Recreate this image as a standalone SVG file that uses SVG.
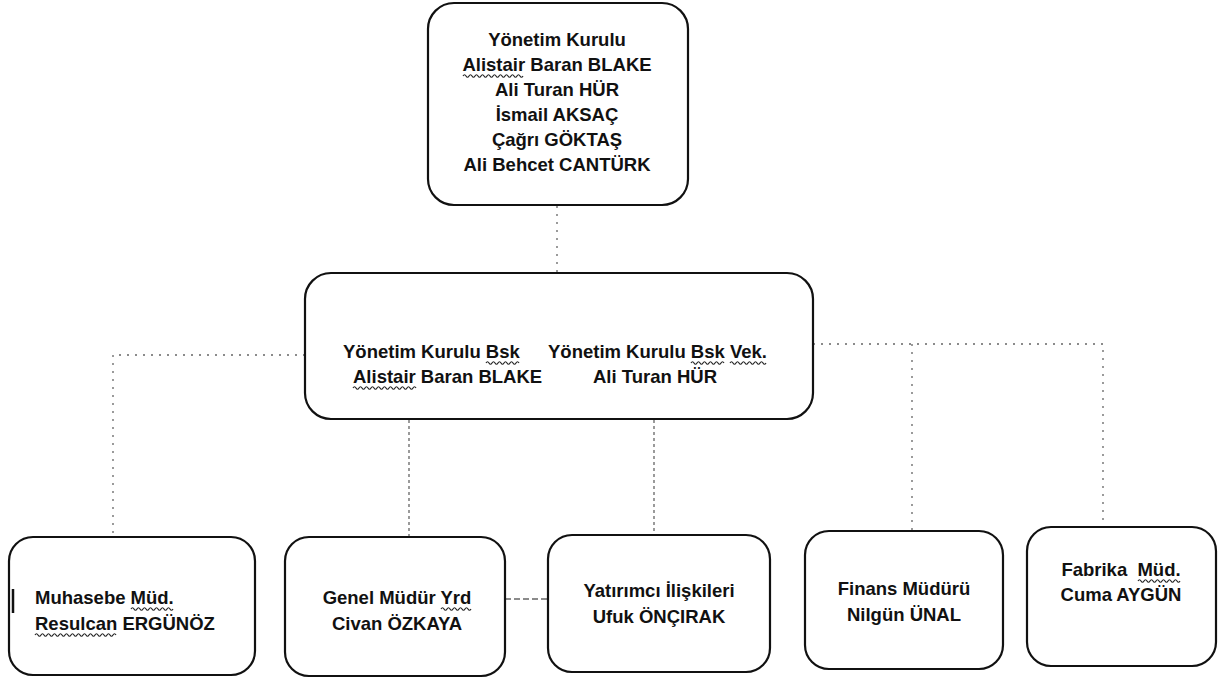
<svg xmlns="http://www.w3.org/2000/svg" width="1221" height="681" viewBox="0 0 1221 681">
<style>
.box{fill:#fff;stroke:#111;stroke-width:2.2}
.t{font-family:"Liberation Sans",Arial,sans-serif;font-weight:bold;font-size:18.5px;fill:#111}
.c{text-anchor:middle}
.conn{fill:none;stroke:#666;stroke-width:1.3}
.sparse{stroke-dasharray:2 6}
.dots{stroke-dasharray:3 3}
.dash{stroke-dasharray:6 3}
.wave{fill:none;stroke:#222;stroke-width:1.2}
</style>
<rect width="1221" height="681" fill="#fff"/>
<g id="connectors">
<path class="conn sparse" d="M557 206 V272"/>
<path class="conn sparse" d="M305 355 H113 V537"/>
<path class="conn sparse" d="M813 344 H1103 V527"/>
<path class="conn sparse" d="M912 344 V531"/>
<path class="conn dots" d="M409 420 V537"/>
<path class="conn dots" d="M654 420 V535"/>
<path class="conn dash" d="M505 599 H548"/>
</g>
<g id="yonetim-kurulu">
<rect class="box" x="428" y="3" width="260" height="202" rx="26"/>
<text class="t c" x="557" y="46">Yönetim Kurulu</text>
<text class="t c" x="557" y="71">Alistair Baran BLAKE</text>
<text class="t c" x="557" y="96">Ali Turan HÜR</text>
<text class="t c" x="557" y="121">İsmail AKSAÇ</text>
<text class="t c" x="557" y="146">Çağrı GÖKTAŞ</text>
<text class="t c" x="557" y="171">Ali Behcet CANTÜRK</text>
<path class="wave" d="M463 76 q1.5 -2.5 3 0 t3 0 t3 0 t3 0 t3 0 t3 0 t3 0 t3 0 t3 0 t3 0 t3 0 t3 0 t3 0 t3 0 t3 0 t3 0 t3 0 t3 0 t3 0 t3 0"/>
</g>
<g id="baskan">
<rect class="box" x="305" y="273" width="508" height="146" rx="26"/>
<text class="t" x="343" y="358">Yönetim Kurulu Bsk</text>
<text class="t" x="548" y="358">Yönetim Kurulu Bsk Vek.</text>
<text class="t" x="353" y="383">Alistair Baran BLAKE</text>
<text class="t" x="593" y="383">Ali Turan HÜR</text>
<path class="wave" d="M486 363 q1.5 -2.5 3 0 t3 0 t3 0 t3 0 t3 0 t3 0 t3 0 t3 0 t3 0 t3 0 t3 0"/>
<path class="wave" d="M691 363 q1.5 -2.5 3 0 t3 0 t3 0 t3 0 t3 0 t3 0 t3 0 t3 0 t3 0 t3 0 t3 0"/>
<path class="wave" d="M730 363 q1.5 -2.5 3 0 t3 0 t3 0 t3 0 t3 0 t3 0 t3 0 t3 0 t3 0 t3 0 t3 0 t3 0"/>
<path class="wave" d="M353 388 q1.5 -2.5 3 0 t3 0 t3 0 t3 0 t3 0 t3 0 t3 0 t3 0 t3 0 t3 0 t3 0 t3 0 t3 0 t3 0 t3 0 t3 0 t3 0 t3 0 t3 0 t3 0 t3 0"/>
</g>
<g id="muhasebe">
<rect class="box" x="9" y="537" width="246" height="138" rx="24"/>
<path d="M13 589 V613" stroke="#111" stroke-width="2.5"/>
<text class="t" x="35" y="604">Muhasebe Müd.</text>
<text class="t" x="35" y="630">Resulcan ERGÜNÖZ</text>
<path class="wave" d="M131 609 q1.5 -2.5 3 0 t3 0 t3 0 t3 0 t3 0 t3 0 t3 0 t3 0 t3 0 t3 0 t3 0 t3 0 t3 0 t3 0"/>
<path class="wave" d="M35 635 q1.5 -2.5 3 0 t3 0 t3 0 t3 0 t3 0 t3 0 t3 0 t3 0 t3 0 t3 0 t3 0 t3 0 t3 0 t3 0 t3 0 t3 0 t3 0 t3 0 t3 0 t3 0 t3 0 t3 0 t3 0 t3 0 t3 0 t3 0 t3 0"/>
</g>
<g id="genel-mudur-yrd">
<rect class="box" x="285" y="537" width="220" height="139" rx="24"/>
<text class="t c" x="397" y="604">Genel Müdür Yrd</text>
<text class="t c" x="397" y="630">Civan ÖZKAYA</text>
<path class="wave" d="M441 609 q1.5 -2.5 3 0 t3 0 t3 0 t3 0 t3 0 t3 0 t3 0 t3 0 t3 0 t3 0"/>
</g>
<g id="yatirimci-iliskileri">
<rect class="box" x="548" y="535" width="222" height="137" rx="24"/>
<text class="t c" x="659" y="597">Yatırımcı İlişkileri</text>
<text class="t c" x="659" y="623">Ufuk ÖNÇIRAK</text>
</g>
<g id="finans-muduru">
<rect class="box" x="805" y="531" width="198" height="138" rx="24"/>
<text class="t c" x="904" y="595">Finans Müdürü</text>
<text class="t c" x="904" y="621">Nilgün ÜNAL</text>
</g>
<g id="fabrika-mud">
<rect class="box" x="1027" y="527" width="189" height="139" rx="24"/>
<text class="t c" x="1121" y="576" xml:space="preserve">Fabrika  Müd.</text>
<text class="t c" x="1121" y="601">Cuma AYGÜN</text>
<path class="wave" d="M1138 581 q1.5 -2.5 3 0 t3 0 t3 0 t3 0 t3 0 t3 0 t3 0 t3 0 t3 0 t3 0 t3 0 t3 0 t3 0 t3 0"/>
</g>
</svg>
